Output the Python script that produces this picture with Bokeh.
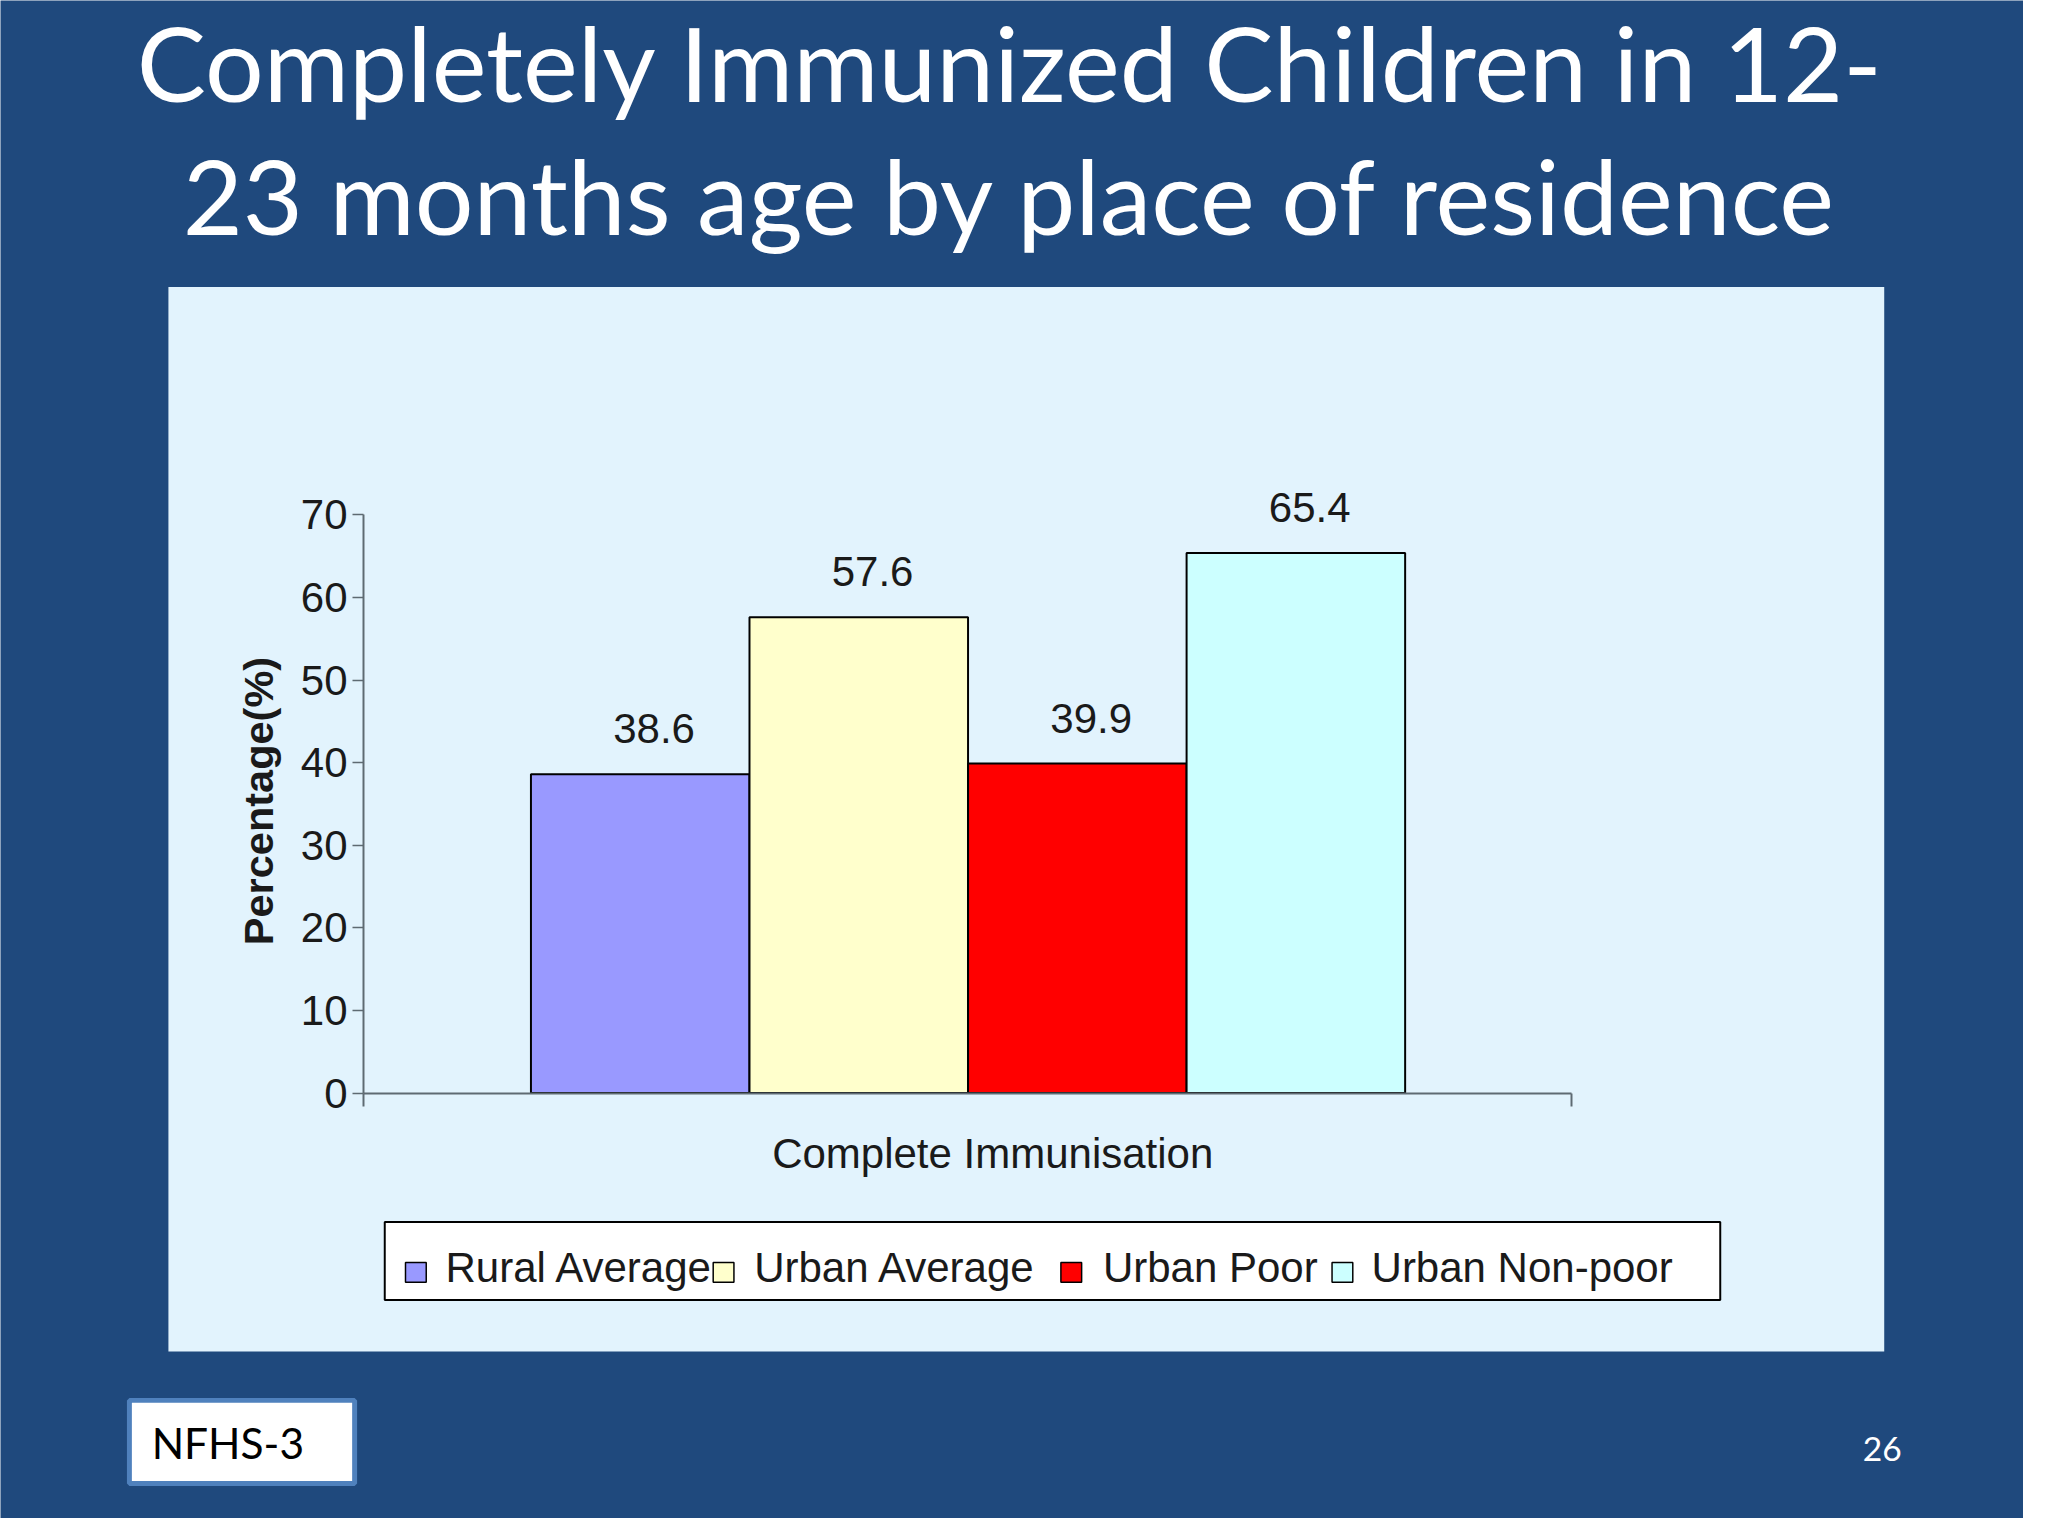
import math
from bokeh.plotting import figure
from bokeh.models import ColumnDataSource, LinearAxis, FixedTicker, Range1d
from bokeh.core.properties import value
from bokeh.embed import file_html
from bokeh.resources import INLINE

# data
title_lines = ["Completely Immunized Children in 12-",
               "23 months age by place of residence"]
series = ["Rural Average", "Urban Average", "Urban Poor", "Urban Non-poor"]
values = [38.6, 57.6, 39.9, 65.4]
colors = ["#9999FF", "#FFFFCC", "#FF0000", "#CCFFFF"]
category = "Complete Immunisation"
y_ticks = [0, 10, 20, 30, 40, 50, 60, 70]
y_label = "Percentage(%)"
source_note = "NFHS-3"
page_no = "26"

# the slide is 2048x1536, shrink a little so it fits inside the 8px margin
K = 0.988
W, H = round(2048 * K), round(1536 * K)

# slide pixel geometry of the chart (bars are 1 unit wide, centred at 1..n)
X0, XW = 979.5, 221.25      # slide x of the category centre, px per bar
Y0, YS = 1105.5, 8.357      # slide y of 0 %, px per %
XC = (len(series) + 1) / 2


def dx(px):
    return XC + (px - X0) / XW


def dy(py):
    return (Y0 - py) / YS


def fs(px):
    return f"{px * K:.1f}px"


BG = "#1F497D"
PANEL = "#E2F3FD"
AXIS = "#5E6A72"
INK = "#1A1A1A"
ARIAL = value("Liberation Sans")
CALIBRI = value("Lato")

p = figure(width=W, height=H,
           x_range=Range1d(dx(0), dx(2048)), y_range=Range1d(dy(1536), dy(0)),
           x_axis_location=None, y_axis_location=None,
           output_backend="svg", toolbar_location=None, min_border=0,
           background_fill_color=BG, border_fill_color=BG, outline_line_color=None)
p.grid.visible = False

# light chart area
p.quad(left=dx(170), right=dx(1907), top=dy(290), bottom=dy(1367),
       fill_color=PANEL, line_color=None)

# title (positions are cap-height centres)
p.text(x=[dx(1022.5)] * 2, y=[dy(62), dy(197)], text=title_lines,
       text_font=CALIBRI, text_font_size=fs(105), text_color="white",
       text_align="center", text_baseline="middle")

# bars
src = ColumnDataSource(dict(x=[i + 1 for i in range(len(series))], top=values,
                            color=colors, lbl=[f"{v:.1f}" for v in values]))
p.vbar(x="x", top="top", bottom=0, width=1, source=src,
       fill_color="color", line_color="black", line_width=2 * K)

p.text(x="x", y="top", text="lbl", source=src, x_offset=14 * K, y_offset=-46 * K,
       text_font=ARIAL, text_font_size=fs(42.5), text_color=INK,
       text_align="center", text_baseline="middle")

# axes sitting inside the frame
yaxis = LinearAxis(fixed_location=dx(367.5), bounds=(y_ticks[0], y_ticks[-1]),
                   ticker=FixedTicker(ticks=y_ticks))
yaxis.axis_line_color = AXIS
yaxis.axis_line_width = 2 * K
yaxis.major_tick_line_color = AXIS
yaxis.major_tick_line_width = 1.5 * K
yaxis.major_tick_out = round(11 * K)
yaxis.major_tick_in = 0
yaxis.minor_tick_line_color = None
yaxis.major_label_standoff = round(5 * K)
yaxis.major_label_text_font = "Liberation Sans"
yaxis.major_label_text_font_size = fs(42.5)
yaxis.major_label_text_color = INK
p.add_layout(yaxis, "left")

x_lo, x_hi = dx(367.5), dx(1590.5)
xaxis = LinearAxis(fixed_location=0, bounds=(x_lo, x_hi),
                   ticker=FixedTicker(ticks=[x_lo, x_hi]))
xaxis.axis_line_color = AXIS
xaxis.axis_line_width = 2 * K
xaxis.major_tick_line_color = AXIS
xaxis.major_tick_line_width = 2 * K
xaxis.major_tick_out = round(13 * K)
xaxis.major_tick_in = 0
xaxis.minor_tick_line_color = None
xaxis.major_label_text_color = None
p.add_layout(xaxis, "below")

p.text(x=[dx(261)], y=[dy(810)], text=[y_label], angle=math.pi / 2,
       text_font=ARIAL, text_font_style="bold", text_font_size=fs(42),
       text_color=INK, text_align="center", text_baseline="middle")

p.text(x=[dx(1004.5)], y=[dy(1167)], text=[category],
       text_font=ARIAL, text_font_size=fs(42.5), text_color=INK,
       text_align="center", text_baseline="middle")

# legend box along the bottom of the chart, laid out like the slide
p.quad(left=dx(389), right=dx(1741), top=dy(1236), bottom=dy(1315),
       fill_color="white", line_color="black", line_width=2 * K)
key_x = [420.5, 732, 1084, 1358.5]
lbl_x = [450.5, 763, 1116, 1388]
p.rect(x=[dx(v) for v in key_x], y=[dy(1287)] * len(series),
       width=21 / XW, height=20 / YS, fill_color=colors,
       line_color="black", line_width=1.5 * K)
p.text(x=[dx(v) for v in lbl_x], y=[dy(1282)] * len(series), text=series,
       text_font=ARIAL, text_font_size=fs(42.5), text_color=INK,
       text_align="left", text_baseline="middle")

# source box and slide number
p.quad(left=dx(130.5), right=dx(358.5), top=dy(1416.5), bottom=dy(1500.5),
       fill_color="white", line_color="#4F81BD", line_width=5 * K)
p.text(x=[dx(153)], y=[dy(1459)], text=[source_note],
       text_font=CALIBRI, text_font_size=fs(43), text_color="black",
       text_align="left", text_baseline="middle")
p.text(x=[dx(1905)], y=[dy(1465.5)], text=[page_no],
       text_font=CALIBRI, text_font_size=fs(34), text_color="white",
       text_align="center", text_baseline="middle")

open("out.html", "w").write(file_html(p, INLINE))
